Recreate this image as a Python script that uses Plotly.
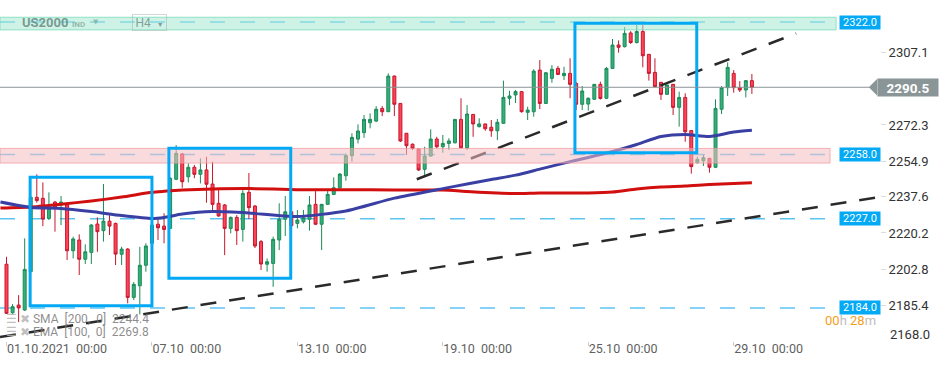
import plotly.graph_objects as go

# ---------------- data ----------------
x_ticks = [0, 24, 48, 72, 96, 120]
x_tick_labels = ["01.10.2021  00:00", "07.10  00:00", "13.10  00:00",
                 "19.10  00:00", "25.10  00:00", "29.10  00:00"]
y_ticks = [2185.4, 2202.8, 2220.2, 2237.6, 2254.9, 2272.3, 2307.1]
y_bottom_label = 2168.0

candle_idx = list(range(124))
opens = [2205.1, 2181.7, 2185.4, 2183.0, 2201.5, 2237.4, 2236.9, 2227.2, 2235.1, 2233.7,
         2233.7, 2211.6, 2216.8, 2207.5, 2210.8, 2224.5, 2221.3, 2225.9, 2224.8, 2209.9,
         2212.4, 2189.1, 2194.7, 2204.6, 2215.2, 2224.4, 2223.5, 2222.4, 2246.1, 2258.3,
         2247.3, 2251.9, 2248.5, 2250.6, 2243.8, 2234.5, 2233.7, 2222.4, 2227.7, 2221.9,
         2239.8, 2233.2, 2216.0, 2205.1, 2205.5, 2216.8, 2226.8, 2230.4, 2224.8, 2225.6,
         2226.8, 2234.0, 2224.4, 2234.0, 2238.8, 2242.0, 2247.8, 2257.5, 2265.5, 2268.6,
         2273.4, 2274.2, 2280.3, 2278.7, 2295.9, 2282.7, 2268.3, 2263.0, 2260.7, 2250.9,
         2257.3, 2265.5, 2261.8, 2263.4, 2263.7, 2275.0, 2261.3, 2277.4, 2271.5, 2272.8,
         2271.2, 2269.5, 2273.1, 2285.2, 2286.8, 2288.4, 2278.4, 2278.7, 2298.8, 2282.7,
         2294.8, 2299.6, 2296.1, 2297.2, 2292.4, 2282.3, 2282.4, 2284.7, 2291.9, 2285.2,
         2299.6, 2310.9, 2310.1, 2316.7, 2312.1, 2317.4, 2306.4, 2297.7, 2292.9, 2287.1,
         2291.9, 2280.8, 2285.6, 2269.6, 2254.1, 2255.0, 2256.2, 2251.9, 2279.9, 2290.3,
         2297.2, 2290.3, 2289.2, 2293.7]
highs = [2208.7, 2185.9, 2190.2, 2217.6, 2238.0, 2248.5, 2244.6, 2239.8, 2235.6, 2238.0,
         2234.2, 2218.4, 2219.5, 2214.7, 2224.5, 2227.7, 2243.8, 2228.8, 2225.2, 2213.5,
         2212.9, 2196.5, 2213.5, 2215.2, 2224.5, 2227.4, 2229.7, 2247.2, 2262.6, 2258.8,
         2253.8, 2253.0, 2256.2, 2257.0, 2254.6, 2240.9, 2234.2, 2228.1, 2228.8, 2240.9,
         2249.1, 2233.7, 2216.8, 2207.9, 2218.4, 2234.5, 2238.0, 2230.8, 2231.3, 2231.3,
         2238.0, 2240.4, 2234.2, 2240.4, 2247.0, 2249.1, 2258.6, 2268.3, 2272.6, 2277.1,
         2277.9, 2281.4, 2281.4, 2297.2, 2296.2, 2282.9, 2268.4, 2263.4, 2260.9, 2261.8,
         2270.2, 2266.6, 2267.5, 2265.9, 2275.2, 2285.2, 2281.9, 2277.6, 2275.5, 2273.0,
         2274.7, 2275.2, 2293.7, 2288.8, 2289.2, 2288.7, 2281.1, 2299.2, 2303.6, 2297.9,
         2301.2, 2300.8, 2300.4, 2304.5, 2293.0, 2291.1, 2285.6, 2292.1, 2293.2, 2300.3,
         2313.8, 2313.1, 2319.6, 2317.6, 2320.5, 2320.5, 2306.5, 2304.5, 2293.0, 2291.8,
         2292.1, 2288.4, 2287.6, 2269.9, 2257.0, 2257.8, 2256.4, 2284.7, 2291.1, 2302.5,
         2298.8, 2293.5, 2293.8, 2296.9]
lows = [2181.1, 2181.1, 2177.2, 2182.5, 2201.3, 2234.8, 2223.5, 2226.4, 2220.8, 2224.0,
        2207.1, 2207.9, 2199.9, 2205.2, 2205.2, 2211.1, 2216.0, 2219.2, 2204.7, 2204.7,
        2186.2, 2187.8, 2180.9, 2201.5, 2214.4, 2216.8, 2215.2, 2222.1, 2245.7, 2242.0,
        2244.6, 2246.6, 2244.1, 2234.8, 2230.4, 2228.0, 2209.5, 2220.0, 2214.4, 2216.0,
        2226.9, 2212.9, 2202.3, 2201.5, 2194.2, 2211.9, 2218.7, 2223.3, 2222.4, 2224.8,
        2221.3, 2224.0, 2211.9, 2233.7, 2238.5, 2241.6, 2245.4, 2254.6, 2263.4, 2266.1,
        2270.7, 2273.7, 2276.6, 2278.6, 2276.6, 2264.1, 2257.8, 2260.2, 2250.1, 2247.3,
        2257.1, 2261.0, 2258.9, 2260.2, 2263.4, 2261.0, 2260.2, 2266.6, 2271.1, 2269.5,
        2266.6, 2265.0, 2273.0, 2281.9, 2282.9, 2278.3, 2274.7, 2276.3, 2280.0, 2282.4,
        2292.7, 2296.4, 2294.0, 2285.2, 2279.5, 2279.5, 2279.2, 2284.4, 2284.6, 2284.8,
        2299.3, 2307.2, 2309.7, 2311.4, 2311.6, 2300.1, 2293.7, 2290.4, 2284.4, 2286.8,
        2277.1, 2271.5, 2264.2, 2248.8, 2253.7, 2252.5, 2249.3, 2251.5, 2277.6, 2286.3,
        2287.9, 2288.2, 2285.6, 2287.3]
closes = [2181.4, 2184.6, 2184.0, 2202.6, 2237.4, 2235.8, 2226.9, 2232.1, 2232.8, 2235.1,
          2211.6, 2217.3, 2207.5, 2211.1, 2224.0, 2220.8, 2225.9, 2223.5, 2210.0, 2212.4,
          2189.1, 2195.4, 2204.6, 2213.9, 2224.0, 2222.7, 2221.9, 2246.6, 2258.6, 2244.9,
          2251.9, 2248.5, 2250.6, 2243.7, 2234.0, 2228.4, 2222.4, 2227.7, 2221.3, 2239.3,
          2232.4, 2213.9, 2205.2, 2206.3, 2217.1, 2226.8, 2230.4, 2223.7, 2226.4, 2227.5,
          2233.7, 2224.4, 2234.0, 2238.8, 2242.0, 2248.6, 2257.5, 2266.3, 2269.4, 2275.0,
          2275.0, 2279.9, 2278.7, 2295.9, 2282.3, 2264.6, 2262.3, 2261.0, 2250.6, 2257.3,
          2265.5, 2261.8, 2263.4, 2264.6, 2275.0, 2261.3, 2277.6, 2272.8, 2272.8, 2270.5,
          2269.5, 2273.6, 2285.6, 2286.3, 2288.4, 2278.7, 2279.5, 2298.3, 2282.7, 2297.5,
          2299.2, 2296.7, 2297.2, 2291.9, 2282.3, 2288.7, 2285.2, 2291.9, 2285.1, 2299.6,
          2310.9, 2309.8, 2316.5, 2312.1, 2317.4, 2305.7, 2297.2, 2290.8, 2287.1, 2291.6,
          2280.8, 2285.6, 2269.0, 2252.2, 2255.7, 2256.5, 2251.9, 2280.3, 2290.3, 2300.1,
          2290.3, 2289.2, 2293.7, 2290.5]

ma_idx = [-1, 4, 9, 14, 19, 24, 26, 29, 34, 40, 48, 56, 64, 72, 76, 80, 84, 88, 92,
          96, 100, 104, 108, 112, 116, 120, 123]
sma200 = [2232.2, 2232.7, 2234.1, 2235.6, 2237.5, 2239.8, 2240.3, 2240.9, 2241.4, 2241.6,
          2241.1, 2241.1, 2240.9, 2240.9, 2240.2, 2239.6, 2239.2, 2239.5, 2239.5, 2239.5,
          2239.9, 2241.4, 2242.4, 2242.8, 2243.6, 2244.1, 2244.4]
ema100 = [2235.1, 2232.5, 2232.0, 2230.5, 2228.6, 2227.2, 2227.7, 2229.3, 2230.5, 2229.8,
          2228.1, 2230.8, 2237.0, 2241.6, 2243.8, 2246.0, 2248.1, 2251.0, 2253.9, 2256.6,
          2259.5, 2262.9, 2266.7, 2267.7, 2266.7, 2268.9, 2269.8]

levels = [2322.0, 2258.0, 2227.0, 2184.0]
band_low = [2318.2, 2253.9]
band_high = [2324.3, 2261.0]
last_price = 2290.5

# user drawings (rectangles and trend lines, in index / price units)
box_x0 = [3.9, 26.8, 93.8]
box_x1 = [24.0, 46.9, 113.9]
box_y0 = [2185.1, 2198.3, 2258.9]
box_y1 = [2247.1, 2261.1, 2321.4]
trend_x0 = [67.7, -1.07]
trend_y0 = [2246.1, 2170.0]
trend_x1 = [130.3, 143.6]
trend_y1 = [2316.5, 2237.3]

# ---------------- layout constants ----------------
W, H = 950, 365
ML, MR, MT, MB = 0, 70, 0, 24
PW, PH = W - ML - MR, H - MT - MB
X_RANGE = [-1.073, 144.14]
Y_RANGE = [2168.05, 2332.62]
FONT = "Roboto, 'Open Sans', Arial, sans-serif"
NB = "\u00a0"


def P(px, py):
    return px / PW, 1 - py / PH


fig = go.Figure()
fig.add_trace(go.Candlestick(
    x=candle_idx, open=opens, high=highs, low=lows, close=closes,
    increasing=dict(line=dict(color="#1c8a58", width=1), fillcolor="#33b07a"),
    decreasing=dict(line=dict(color="#c5172d", width=1), fillcolor="#ff4458"),
    showlegend=False, hoverinfo="skip"))
fig.add_trace(go.Scatter(x=ma_idx, y=sma200, mode="lines",
                         line=dict(color="#d20f0f", width=3, shape="spline", smoothing=0.6),
                         showlegend=False, hoverinfo="skip"))
fig.add_trace(go.Scatter(x=ma_idx, y=ema100, mode="lines",
                         line=dict(color="#393fa3", width=3, shape="spline", smoothing=0.6),
                         showlegend=False, hoverinfo="skip"))

shapes = []
for lv in levels:
    shapes.append(dict(type="line", xref="x", yref="y", x0=X_RANGE[0], x1=135.9, y0=lv, y1=lv,
                       line=dict(color="#5cc3f2", width=1.5, dash="15px,15px"), layer="below"))
for a, b, c, d in zip(trend_x0, trend_y0, trend_x1, trend_y1):
    shapes.append(dict(type="line", xref="x", yref="y", x0=a, y0=b, x1=c, y1=d,
                       line=dict(color="#2a2a2a", width=2.5, dash="16px,13px"), layer="above"))
shapes.append(dict(type="rect", xref="x", yref="y", x0=X_RANGE[0], x1=136.9,
                   y0=band_low[0], y1=band_high[0], fillcolor="rgba(165,234,210,0.55)",
                   line=dict(color="rgba(110,215,180,0.7)", width=1), layer="above"))
shapes.append(dict(type="rect", xref="x", yref="y", x0=X_RANGE[0], x1=135.9,
                   y0=band_low[1], y1=band_high[1], fillcolor="rgba(245,190,193,0.55)",
                   line=dict(color="rgba(240,150,155,0.7)", width=1), layer="above"))
for a, b, c, d in zip(box_x0, box_y0, box_x1, box_y1):
    shapes.append(dict(type="rect", xref="x", yref="y", x0=a, y0=b, x1=c, y1=d,
                       line=dict(color="#03a9f4", width=3), fillcolor="rgba(0,0,0,0)",
                       layer="above"))
shapes.append(dict(type="line", xref="x", yref="y", x0=X_RANGE[0], x1=142.4,
                   y0=last_price, y1=last_price, line=dict(color="#8a9598", width=1),
                   layer="above"))
shapes.append(dict(type="path", xref="x", yref="y",
                   path=f"M 142.3 {last_price} L 143.7 {last_price + 4.1} L 143.7 {last_price - 4.1} Z",
                   fillcolor="#8a9598", line=dict(width=0), layer="above"))

ann = []
for lv in levels:
    ann.append(dict(xref="x", yref="y", x=137.4, y=lv, xanchor="left", yanchor="middle",
                    text=f"{lv:.1f}", showarrow=False, bgcolor="#03a9f4", width=40, height=13,
                    borderpad=0, font=dict(family=FONT, size=11, color="white")))
ann.append(dict(xref="x", yref="y", x=143.6, y=last_price, xanchor="left", yanchor="middle",
                text=f"<b>{last_price:.1f}</b>", showarrow=False, bgcolor="#8a9598",
                width=60, height=17, borderpad=0, font=dict(family=FONT, size=13.5, color="white")))
px_, py_ = P(888, 334)
ann.append(dict(xref="paper", yref="paper", x=px_, y=py_, xanchor="left", yanchor="middle",
                text=f"{y_bottom_label:.1f}", showarrow=False,
                font=dict(family=FONT, size=13, color="#333")))
px_, py_ = P(20, 23)
ann.append(dict(xref="paper", yref="paper", x=px_, y=py_, xanchor="left", yanchor="middle",
                text="<b>US2000</b>", showarrow=False,
                font=dict(family=FONT, size=13, color="rgba(100,130,122,0.8)")))
px_, py_ = P(70, 24)
ann.append(dict(xref="paper", yref="paper", x=px_, y=py_, xanchor="left", yanchor="middle",
                text="<b>IND</b>", showarrow=False,
                font=dict(family=FONT, size=8, color="rgba(110,140,130,0.6)")))
px_, py_ = P(91, 22)
ann.append(dict(xref="paper", yref="paper", x=px_, y=py_, xanchor="left", yanchor="middle",
                text="▼", showarrow=False,
                font=dict(family="DejaVu Sans", size=7, color="rgba(110,140,130,0.5)")))
px_, py_ = P(132, 23)
ann.append(dict(xref="paper", yref="paper", x=px_, y=py_, xanchor="left", yanchor="middle",
                text=f"H4{NB}{NB}<span style='font-size:7px'>▼</span>", showarrow=False,
                width=33, height=15, borderpad=0,
                bordercolor="rgba(150,170,165,0.45)", borderwidth=1,
                font=dict(family=FONT, size=12, color="rgba(110,135,128,0.8)")))
for row, (name, par, val) in enumerate([("SMA", "[200,  0]", sma200[-1]),
                                         ("EMA", "[100,  0]", ema100[-1])]):
    px_, py_ = P(4, 319 + 13 * row)
    txt = (f"<span style='color:#b5b5b5'>☰</span>{NB}"
           f"<span style='color:#b5b5b5'>✖</span>{NB}"
           f"{name}{NB}{NB}{par.replace(' ', NB)}{NB}{NB}{val:.1f}")
    ann.append(dict(xref="paper", yref="paper", x=px_, y=py_, xanchor="left", yanchor="middle",
                    text=txt, showarrow=False,
                    font=dict(family=FONT, size=12, color="rgba(120,120,120,0.85)")))
px_, py_ = P(823, 320)
ann.append(dict(xref="paper", yref="paper", x=px_, y=py_, xanchor="left", yanchor="middle",
                text="<span style='color:#f5a01a'>00</span>h <span style='color:#f5a01a'>28</span>m",
                showarrow=False, font=dict(family=FONT, size=13, color="#bdbdbd")))

fig.update_layout(
    width=W, height=H, autosize=False,
    margin=dict(l=ML, r=MR, t=MT, b=MB),
    paper_bgcolor="white", plot_bgcolor="white",
    showlegend=False, shapes=shapes, annotations=ann,
    font=dict(family=FONT),
    xaxis=dict(range=X_RANGE, showgrid=False, zeroline=False, showline=False,
               rangeslider=dict(visible=False),
               tickmode="array", tickvals=x_ticks,
               ticktext=[t.replace(" ", NB) for t in x_tick_labels],
               ticklabelposition="outside right",
               ticks="outside", ticklen=4, tickcolor="#cccccc",
               ticklabelstandoff=-4,
               tickfont=dict(family=FONT, size=12.5, color="#5f5f5f")),
    yaxis=dict(range=Y_RANGE, side="right", showgrid=False, zeroline=False, showline=False,
               tickmode="array", tickvals=y_ticks, ticktext=[f"{v:.1f}" for v in y_ticks],
               ticks="outside", ticklen=5, tickcolor="#dddddd",
               tickfont=dict(family=FONT, size=13, color="#333333")),
)

fig.write_html("out.html", config={"displayModeBar": False},
               post_script="document.body.style.margin='0';document.body.style.padding='0';")
